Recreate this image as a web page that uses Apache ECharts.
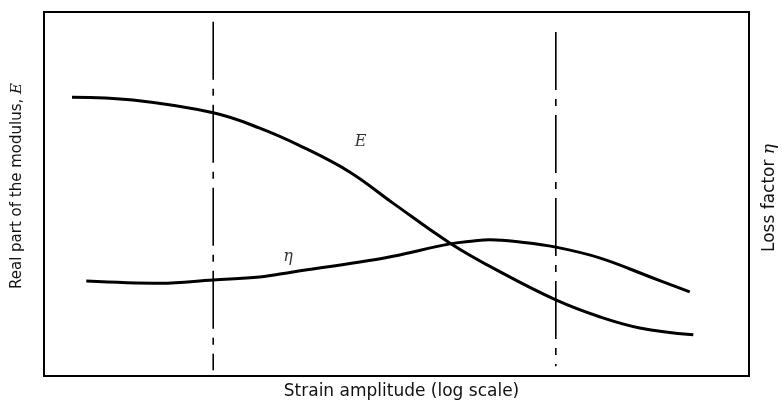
<!DOCTYPE html>
<html>
<head>
<meta charset="utf-8">
<script src="https://cdn.jsdelivr.net/npm/echarts@6/dist/echarts.min.js"></script>
<style>html,body{margin:0;padding:0;background:#fff;overflow:hidden}#c{width:782px;height:412px}</style>
</head>
<body>
<div id="c"></div>
<script>
// Strain amplitude (arbitrary log-scale units, 0..100) and values (arbitrary 0..100)
const eX = [3.97, 12.6, 24.0, 30.6, 36.7, 43.4, 49.5, 57.6, 64.7, 72.6, 78.9, 84.5, 92.1];
const eY = [76.6, 75.8, 72.3, 68.1, 62.9, 56.0, 47.5, 36.5, 28.6, 20.9, 16.2, 13.2, 11.3];
const etaX = [6.0, 16.5, 24.0, 30.6, 35.3, 44.8, 49.5, 57.6, 60.9, 63.3, 67.5, 72.6, 78.9, 86.0, 91.6];
const etaY = [26.1, 25.5, 26.4, 27.2, 28.6, 31.3, 32.9, 36.3, 37.1, 37.4, 36.8, 35.4, 32.4, 27.2, 23.1];
// vertical dash-dot reference lines: x position, upper and lower extents
const refX = [24.0, 72.6];
const refHigh = [97.3, 94.5];
const refLow = [1.6, 2.7];
// curve labels
const labelText = ['E', 'η'];
const labelX = [44.9, 34.6];
const labelY = [64.3, 32.7];

const zip = (a, b) => a.map((v, i) => [v, b[i]]);
const font = 'DejaVu Sans, sans-serif';
const serifIt = {fontFamily: 'DejaVu Serif, serif', fontStyle: 'italic', color: '#111'};

const chart = echarts.init(document.getElementById('c'), null, {renderer: 'canvas', width: 782, height: 412});
chart.setOption({
  animation: false,
  backgroundColor: '#fff',
  grid: {left: 44, right: 33, top: 12, bottom: 36, show: true, borderColor: '#000', borderWidth: 2, backgroundColor: 'transparent',
    containLabel: false, outerBoundsMode: 'none'},
  xAxis: {
    type: 'value', min: 0, max: 100,
    axisLine: {show: false}, axisTick: {show: false}, axisLabel: {show: false}, splitLine: {show: false},
    name: 'Strain amplitude (log scale)', nameLocation: 'middle', nameGap: 7,
    nameTextStyle: {fontFamily: font, fontSize: 17, color: '#111', verticalAlign: 'top', padding: [0, 0, 0, 10]}
  },
  yAxis: [{
    type: 'value', min: 0, max: 100, position: 'left',
    axisLine: {show: false}, axisTick: {show: false}, axisLabel: {show: false}, splitLine: {show: false},
    name: 'Real part of the modulus, {i|E}', nameLocation: 'middle', nameGap: 19, nameRotate: 90,
    nameTextStyle: {fontFamily: font, fontSize: 15, color: '#111', padding: [0, 0, 0, 16], rich: {i: Object.assign({fontSize: 15}, serifIt)}}
  }, {
    type: 'value', min: 0, max: 100, position: 'right',
    axisLine: {show: false}, axisTick: {show: false}, axisLabel: {show: false}, splitLine: {show: false},
    name: 'Loss factor {i|η}', nameLocation: 'middle', nameGap: 12, nameRotate: 90,
    nameTextStyle: {fontFamily: font, fontSize: 17, color: '#111', padding: [0, 8, 0, 0], rich: {i: Object.assign({fontSize: 17}, serifIt)}}
  }],
  series: [
    {type: 'line', data: zip(eX, eY), smooth: 0.4, showSymbol: false, lineStyle: {color: '#000', width: 3}},
    {type: 'line', data: zip(etaX, etaY), smooth: 0.4, showSymbol: false, lineStyle: {color: '#000', width: 3}},
    ...refX.map((x, i) => ({
      type: 'line', data: [[x, refHigh[i]], [x, refLow[i]]], showSymbol: false,
      lineStyle: {color: '#000', width: 1.6, type: [58, 9, 7, 9]}
    })),
    {
      type: 'scatter', symbolSize: 0,
      data: labelText.map((t, i) => ({value: [labelX[i], labelY[i]], name: t})),
      label: {show: true, position: 'inside', formatter: p => p.name,
        fontFamily: 'DejaVu Serif, serif', fontStyle: 'italic', fontSize: 16, color: '#000'}
    }
  ]
});
</script>
</body>
</html>
